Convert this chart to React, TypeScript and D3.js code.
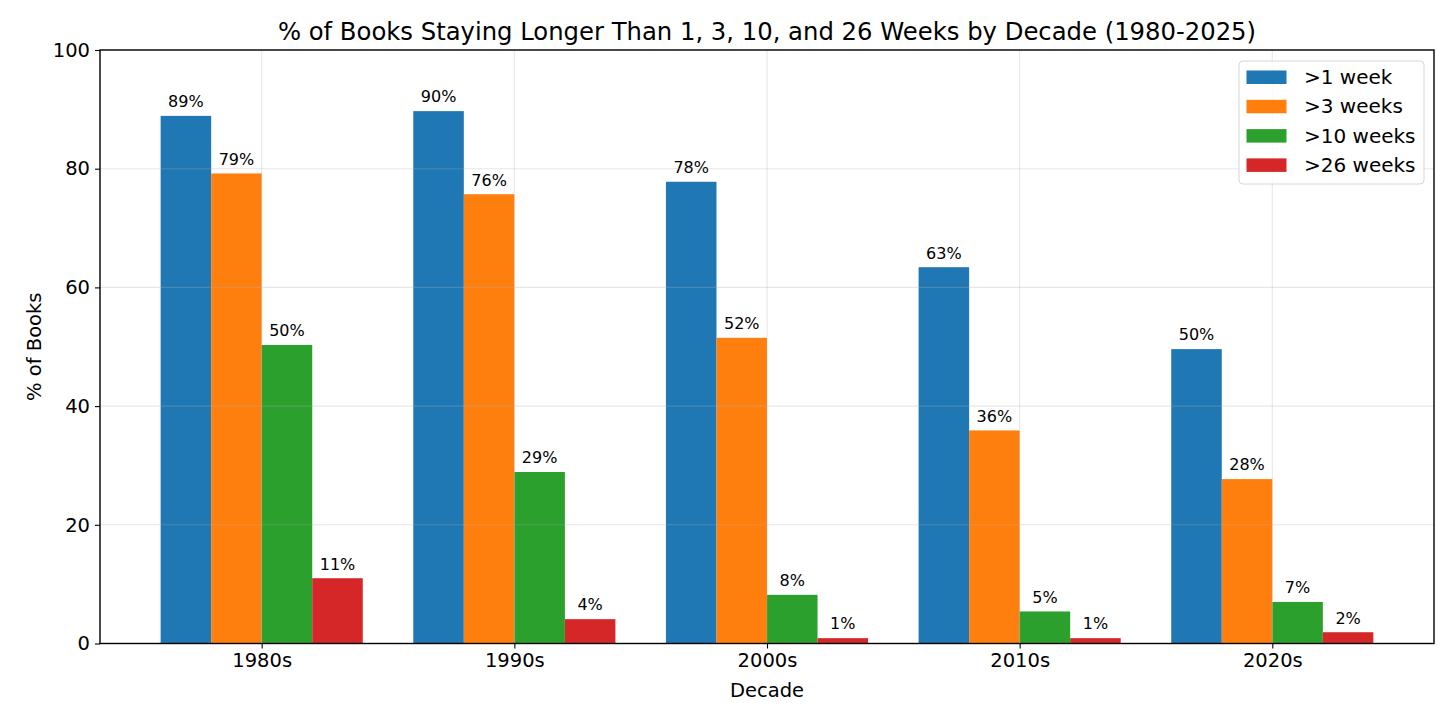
import React, { useRef, useEffect } from 'react';
import * as d3 from 'd3';

// Data
const decades = ['1980s', '1990s', '2000s', '2010s', '2020s'];
const seriesNames = ['>1 week', '>3 weeks', '>10 weeks', '>26 weeks'];
const over1 = [88.9, 89.7, 77.8, 63.4, 49.6];
const over3 = [79.2, 75.7, 51.5, 35.9, 27.7];
const over10 = [50.3, 28.9, 8.2, 5.4, 7.0];
const over26 = [11.0, 4.1, 0.9, 0.9, 1.9];
const yTicks = [0, 20, 40, 60, 80, 100];

const colors = ['#1f77b4', '#ff7f0e', '#2ca02c', '#d62728'];
const FONT = 'DejaVu Sans, sans-serif';

const width = 1456;
const height = 728;

const App: React.FC = () => {
    const svgRef = useRef<SVGSVGElement>(null);

    useEffect(() => {
        if (!svgRef.current) return;
        const svg = d3.select(svgRef.current);
        svg.selectAll('*').remove();

        const margin = { top: 50, right: 22, bottom: 84.5, left: 100 };
        const innerWidth = width - margin.left - margin.right;
        const innerHeight = height - margin.top - margin.bottom;

        const series = [over1, over3, over10, over26];
        const barW = 0.2;

        // matplotlib-style numeric x: categories at 0..4, bars offset by 0.2
        const xScale = d3.scaleLinear()
            .domain([-0.64, decades.length - 1 + 0.64])
            .range([0, innerWidth]);
        const yScale = d3.scaleLinear()
            .domain([0, 100])
            .range([innerHeight, 0]);

        svg.append('rect')
            .attr('width', width)
            .attr('height', height)
            .attr('fill', '#ffffff');

        const g = svg.append('g')
            .attr('transform', `translate(${margin.left},${margin.top})`);

        // Bars
        series.forEach((vals, si) => {
            const offset = (si - 1.5) * barW;
            vals.forEach((v, i) => {
                const x0 = xScale(i + offset - barW / 2);
                const x1 = xScale(i + offset + barW / 2);
                g.append('rect')
                    .attr('x', x0)
                    .attr('y', yScale(v))
                    .attr('width', x1 - x0)
                    .attr('height', yScale(0) - yScale(v))
                    .attr('fill', colors[si]);

                g.append('text')
                    .attr('x', (x0 + x1) / 2)
                    .attr('y', yScale(v) - 8.7)
                    .attr('text-anchor', 'middle')
                    .attr('font-family', FONT)
                    .attr('font-size', '16px')
                    .attr('fill', '#000')
                    .text(`${Math.round(v)}%`);
            });
        });

        // Grid (drawn over bars, like the reference)
        const grid = g.append('g').attr('stroke', '#b0b0b0').attr('stroke-opacity', 0.3).attr('stroke-width', 1.1);
        yTicks.forEach(t => {
            grid.append('line')
                .attr('x1', 0).attr('x2', innerWidth)
                .attr('y1', yScale(t)).attr('y2', yScale(t));
        });
        decades.forEach((_, i) => {
            grid.append('line')
                .attr('x1', xScale(i)).attr('x2', xScale(i))
                .attr('y1', 0).attr('y2', innerHeight);
        });

        // Axes
        const xAxis = d3.axisBottom(xScale)
            .tickValues(decades.map((_, i) => i))
            .tickFormat(d => decades[d as number])
            .tickSize(5)
            .tickPadding(5);
        const yAxis = d3.axisLeft(yScale)
            .tickValues(yTicks)
            .tickSize(5)
            .tickPadding(5);

        const xg = g.append('g')
            .attr('transform', `translate(0,${innerHeight})`)
            .call(xAxis);
        const yg = g.append('g').call(yAxis);
        [xg, yg].forEach(a => {
            a.select('.domain').remove();
            a.selectAll('line').attr('stroke', '#000').attr('stroke-width', 1.1);
            a.selectAll('text')
                .attr('font-family', FONT)
                .attr('font-size', '19.5px')
                .attr('fill', '#000');
        });

        // Frame
        g.append('rect')
            .attr('width', innerWidth)
            .attr('height', innerHeight)
            .attr('fill', 'none')
            .attr('stroke', '#000')
            .attr('stroke-width', 1.4);

        // Title and axis labels
        svg.append('text')
            .attr('x', margin.left + innerWidth / 2)
            .attr('y', 40)
            .attr('text-anchor', 'middle')
            .attr('font-family', FONT)
            .attr('font-size', '24.3px')
            .text('% of Books Staying Longer Than 1, 3, 10, and 26 Weeks by Decade (1980-2025)');

        svg.append('text')
            .attr('x', margin.left + innerWidth / 2)
            .attr('y', 697)
            .attr('text-anchor', 'middle')
            .attr('font-family', FONT)
            .attr('font-size', '19.5px')
            .text('Decade');

        svg.append('text')
            .attr('transform', `translate(41,${margin.top + innerHeight / 2}) rotate(-90)`)
            .attr('text-anchor', 'middle')
            .attr('font-family', FONT)
            .attr('font-size', '19.5px')
            .text('% of Books');

        // Legend
        const lg = svg.append('g').attr('transform', 'translate(1239,61)');
        lg.append('rect')
            .attr('width', 185)
            .attr('height', 123)
            .attr('rx', 4)
            .attr('fill', '#fff')
            .attr('fill-opacity', 0.8)
            .attr('stroke', '#d6d6d6')
            .attr('stroke-width', 1);
        seriesNames.forEach((name, i) => {
            const cy = 16 + i * 29.3;
            lg.append('rect')
                .attr('x', 7.5)
                .attr('y', cy - 6.5)
                .attr('width', 40)
                .attr('height', 13.5)
                .attr('fill', colors[i]);
            lg.append('text')
                .attr('x', 65)
                .attr('y', cy + 7)
                .attr('font-family', FONT)
                .attr('font-size', '20px')
                .text(name);
        });
    }, []);

    return (
        <div style={{ position: 'absolute', left: 0, top: 0 }}>
            <svg ref={svgRef} width={width} height={height} style={{ display: 'block' }} />
        </div>
    );
};

export default App;
